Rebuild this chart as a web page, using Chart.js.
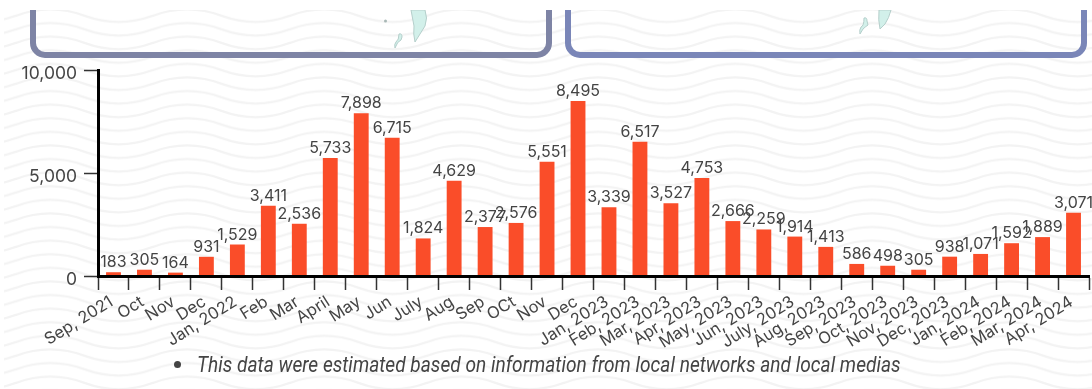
<!DOCTYPE html>
<html>
<head>
<meta charset="utf-8">
<title>Monthly estimates</title>
<script src="https://cdn.jsdelivr.net/npm/chart.js@4"></script>
<style>
  html, body { margin: 0; padding: 0; background: #fff; }
  #page { position: relative; width: 1092px; height: 389px; overflow: hidden; }
  #backdrop, #myChart { position: absolute; left: 0; top: 0; }
  #note {
    position: absolute; left: 197px; top: 351px; white-space: nowrap;
    font: italic 22.5px Roboto, sans-serif; color: #444;
    transform: scaleX(0.85); transform-origin: left top;
  }
  #dot { position: absolute; left: 174px; top: 361px; width: 7px; height: 7px; border-radius: 50%; background: #444; }
</style>
</head>
<body>
<div id="page">
  <!-- волнистый фон и рамки карт -->
  <svg id="backdrop" width="1092" height="389" xmlns="http://www.w3.org/2000/svg">
    <defs>
      <path id="wave" d="M-137 0 q34.25 -12.5 68.5 0 t68.5 0 t68.5 0 t68.5 0 t68.5 0" fill="none" stroke="#f3f3f3" stroke-width="2.2"/>
      <pattern id="waves" x="16" y="10" width="137" height="13.6" patternUnits="userSpaceOnUse">
        <use href="#wave" y="-7.9"/>
        <use href="#wave" y="5.7"/>
        <use href="#wave" y="19.3"/>
      </pattern>
    </defs>
    <rect x="4" y="10" width="1088" height="379" fill="url(#waves)"/>
    <rect x="33" y="-20" width="516" height="75" rx="12" fill="none" stroke="#7e84a5" stroke-width="6"/>
    <rect x="568" y="-20" width="516" height="75" rx="12" fill="none" stroke="#7a86b8" stroke-width="6"/>
    <g fill="#d2f0ea" stroke="#b5cfcb" stroke-width="1">
      <path d="M411 10 L425 10 Q428 18 425 26 L415 42 Q413 34 414 26 Z"/>
      <path d="M399 34 q3 -1 3 3 l-1 3 q-4 2 -5 6 l-1 2 q-1 -4 1 -6 q3 -2 3 -8 Z"/>
      <circle cx="385.5" cy="21" r="1.5" fill="#a9b8b6" stroke="none"/>
      <path d="M879 10 L891 10 Q889 18 885 24 L880 29 Q878 20 879 10 Z"/>
      <path d="M864 18 q3 -1 3 3 l1 4 q-3 2 -5 4 l-3 5 q-1 -4 1 -7 q3 -1 3 -9 Z"/>
    </g>
    <rect x="0" y="0" width="1092" height="10" fill="#fff"/>
  </svg>
  <canvas id="myChart" width="1092" height="389"></canvas>
  <div id="dot"></div>
  <div id="note">This data were estimated based on information from local networks and local medias</div>
</div>
<script>
const labels = [
  'Sep, 2021', 'Oct', 'Nov', 'Dec', 'Jan, 2022', 'Feb', 'Mar', 'April', 'May', 'Jun', 'July', 'Aug',
  'Sep', 'OCt', 'Nov', 'Dec', 'Jan, 2023', 'Feb, 2023', 'Mar, 2023', 'Apr, 2023', 'May, 2023', 'Jun, 2023',
  'July, 2023', 'Aug, 2023', 'Sep, 2023', 'Oct, 2023', 'Nov, 2023', 'Dec, 2023', 'Jan, 2024', 'Feb, 2024',
  'Mar, 2024', 'Apr, 2024'
];

const values = [
  183, 305, 164, 931, 1529, 3411, 2536, 5733, 7898, 6715, 1824, 4629,
  2377, 2576, 5551, 8495, 3339, 6517, 3527, 4753, 2666, 2259,
  1914, 1413, 586, 498, 305, 938, 1071, 1592,
  1889, 3071
];

const yTicks = [0, 5000, 10000];

const textFont = 'Inter, sans-serif';
const textColor = '#444';

// подписи значений над столбцами и подписи оси Y
const barValues = {
  id: 'barValues',
  afterDatasetsDraw(chart) {
    const ctx = chart.ctx;
    ctx.save();
    ctx.font = '16px ' + textFont;
    ctx.fillStyle = textColor;
    ctx.textAlign = 'center';
    ctx.textBaseline = 'alphabetic';
    chart.getDatasetMeta(0).data.forEach((bar, i) => {
      ctx.fillText(values[i].toLocaleString('en-US'), bar.x, bar.y - 5);
    });

    ctx.font = '17.5px ' + textFont;
    ctx.textAlign = 'right';
    ctx.textBaseline = 'middle';
    yTicks.forEach(v => {
      ctx.fillText(v.toLocaleString('en-US'), 77, chart.scales.y.getPixelForValue(v) + 3.5);
    });
    ctx.restore();
  }
};

const myChart = new Chart(document.getElementById('myChart'), {
  type: 'bar',
  data: {
    labels: labels,
    datasets: [{
      data: values,
      backgroundColor: '#fa4d29',
      categoryPercentage: 1,
      barPercentage: 0.48
    }]
  },
  options: {
    responsive: false,
    animation: false,
    devicePixelRatio: 1,
    layout: { padding: { top: 70, right: 3, left: 0, bottom: 0 } },
    plugins: { legend: { display: false }, tooltip: { enabled: false } },
    scales: {
      x: {
        afterFit(scale) { scale.height = 113; },
        grid: { drawOnChartArea: false, tickLength: 14, tickColor: '#333', tickWidth: 1.5, z: 1 },
        border: { color: '#000', width: 3, z: 1 },
        ticks: {
          autoSkip: false, minRotation: 32, maxRotation: 32, padding: 2, labelOffset: -2,
          color: textColor, font: { family: textFont, size: 16.5 }
        }
      },
      y: {
        min: 0,
        max: 10000,
        afterFit(scale) { scale.width = 98; },
        afterBuildTicks(scale) { scale.ticks = yTicks.map(v => ({ value: v })); },
        grid: { drawOnChartArea: false, tickLength: 14, tickColor: '#333', tickWidth: 1.5, z: 1 },
        border: { color: '#000', width: 3, z: 1 },
        ticks: { display: false }
      }
    }
  },
  plugins: [barValues]
});
</script>
</body>
</html>
